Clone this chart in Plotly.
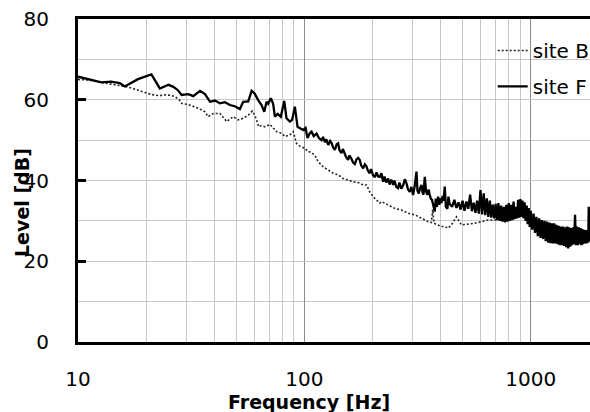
import plotly.graph_objects as go

# ---- data (frequency in Hz, level in dB) ----
freq_B = [10, 11.2, 12.0, 13.0, 14.0, 15.0, 16.1, 17.2, 18.4, 19.7, 21.1, 22.9, 24.2, 25.5,
          26.8, 28.0, 28.7, 30.7, 32.3, 34.0, 36.4, 37.6, 39.6, 42.4, 45.4, 48.5, 51.0,
          53.7, 56.5, 58.9, 60.4, 62.9, 64.5, 67.0, 70.5, 72.8, 75.4, 79.3, 82.1, 86.3,
          89.3, 92.3, 95.5, 100.5, 104.0, 105.7, 111.2, 115.0, 121.1, 127.5, 134.1, 141.0,
          148.4, 156.1, 164.2, 172.8, 181.8, 188.1, 194.5, 201.2, 208.2, 215.4, 219.3,
          234.5, 250.8, 268.6, 287.2, 307.6, 329.2, 352.2, 364, 369, 374, 403.5, 417, 431,
          446, 470, 494, 529, 566, 606, 649, 694, 750, 800, 850, 900, 950, 1000, 1100,
          1200, 1300, 1400, 1500, 1600, 1700, 1830]
level_B = [65.0, 64.9, 64.5, 64.2, 63.8, 63.6, 63.3, 62.9, 62.4, 61.8, 61.3, 61.0, 61.2, 61.1,
           60.8, 60.0, 59.1, 58.8, 58.4, 57.9, 57.0, 55.8, 56.6, 56.6, 54.6, 55.8, 55.0,
           55.4, 56.2, 57.2, 56.2, 53.3, 53.6, 53.3, 53.9, 52.9, 52.1, 51.7, 50.9, 51.3,
           52.1, 49.2, 48.5, 48.0, 47.1, 47.1, 46.3, 44.7, 43.4, 42.6, 41.8, 41.4,
           40.5, 40.1, 39.7, 39.5, 38.9, 38.9, 37.2, 36.0, 35.2, 34.4, 34.8,
           33.9, 33.1, 32.7, 31.9, 31.5, 30.6, 29.8, 29.6, 32.8, 29.4, 28.6, 28.6, 28.2,
           29.0, 31.0, 29.0, 29.2, 29.4, 29.8, 30.2, 30.2, 30.5, 30.8, 31.0, 31.5, 31.8, 30.0, 28.0,
           27.2, 26.8, 26.5, 26.2, 26.0, 25.8, 26.0]

freq_F = [10, 11.45, 12.7, 14.0, 15.3, 16.1, 18.4, 21.1, 23.0, 25.1, 26.4, 27.7, 28.7, 30.7,
          32.3, 34.6, 36.4, 38.3, 40.3, 42.4, 44.6, 46.9, 49.3, 51.9, 53.7, 56.5, 58.5,
          60.4, 62.5, 64.7, 66.5, 68.1, 69.2, 71.1, 72.8, 74.1, 76.2, 78.7, 81.5, 83.4,
          86.3, 88.3, 90.8, 93.3, 95.5, 98.8, 101.2, 103.3, 105.7,
          107.6, 110, 113.2, 116, 119.1, 121, 123.2, 125, 127.5, 130, 131.9, 134, 136.4,
          139, 141.0, 143, 145.9, 148, 150.9, 153, 156.1, 158, 161.5, 164, 167.1, 170,
          173, 175.8, 178, 181.8, 185, 188.1, 191, 194.5, 197, 201.2, 205, 208.2, 212, 215.4,
          219, 222.9, 226, 230, 234.5, 238, 242, 246.8, 250, 255, 259.6, 263, 268, 273.2,
          278, 282.6, 287, 292.4, 297, 302.3, 307, 312.9, 316, 320.4, 325, 329.2, 333, 336,
          340.5, 345, 349.8, 354, 358.1, 362, 366.6, 371, 376.7, 381, 385, 389.9, 395, 399,
          403.5, 408, 412, 417.2, 422, 428.7, 433, 438.6,
          450, 460, 470, 480, 490, 500, 510, 520, 530, 540, 550, 560, 570, 580, 590, 600,
          610, 620, 630, 640, 650, 660, 670, 680, 690, 700, 710, 720, 730, 740, 750, 760,
          770, 780, 790, 800, 810, 820, 830, 840, 850, 860, 870, 880, 890, 900, 910, 920,
          930, 940, 950, 960, 970, 980, 990, 1000,
          1015, 1030, 1045, 1060, 1075, 1090, 1105, 1120, 1135, 1150, 1165, 1180, 1195,
          1210, 1225, 1240, 1255, 1270, 1285, 1300, 1315, 1330, 1345, 1360, 1375, 1390,
          1405, 1420, 1435, 1450, 1465, 1480, 1495, 1510, 1525, 1540, 1555, 1570, 1585,
          1600, 1615, 1630, 1645, 1660, 1675, 1690, 1705, 1720, 1735, 1750, 1765, 1780,
          1795, 1805, 1815, 1830]
level_F = [65.7, 64.9, 64.3, 64.5, 64.1, 63.3, 65.1, 66.3, 62.8, 63.7, 63.2, 62.3, 61.2, 61.4,
           60.9, 62.2, 61.4, 59.5, 59.8, 59.1, 59.4, 58.7, 58.4, 57.7, 59.5, 59.6, 62.2,
           61.5, 59.9, 58.7, 57.0, 59.5, 59.0, 60.4, 59.0, 55.8, 56.5, 55.8, 59.7, 55.4,
           54.6, 55.0, 58.3, 53.3, 53.0, 52.5, 53.0, 50.5, 51.7,
           52.1, 51.0, 51.6, 50.5, 50.0, 50.8, 49.5, 50.2, 48.8, 49.8, 49.3, 48.2, 47.6,
           49.0, 49.2, 47.5, 46.8, 47.8, 46.5, 45.8, 45.1, 46.2, 45.4, 44.5, 44.1, 45.2,
           45.6, 45.1, 43.8, 43.0, 44.0, 43.5, 42.4, 41.8, 42.8, 41.3, 40.8, 42.0, 41.0, 40.9,
           41.8, 39.7, 41.0, 39.5, 40.5, 39.0, 40.2, 38.9, 40.0, 38.4, 38.1, 39.5, 38.0, 38.8,
           40.3, 39.3, 37.8, 37.2, 38.4, 36.4, 38.5, 42.2, 37.5, 36.8, 38.2, 38.9, 37.0, 36.5,
           40.9, 37.2, 36.5, 37.8, 36.4, 35.5, 35.2, 34.0, 32.3, 35.5, 33.5, 36.0, 34.0, 35.6,
           34.4, 36.2, 35.0, 38.5, 33.5, 33.0, 36.0, 34.2,
           33.5, 35.2, 33.2, 34.6, 32.8, 35.0, 32.5, 34.8, 33.0, 36.5, 32.4, 34.5, 32.0, 35.0, 31.8, 37.6,
           31.6, 36.8, 31.4, 35.6, 31.0, 35.0, 30.8, 34.0, 30.6, 34.2, 30.2, 34.4, 30.0, 33.8, 29.8, 33.5,
           29.6, 34.0, 29.8, 34.4, 30.0, 34.0, 30.2, 34.8, 30.4, 33.5, 30.6, 35.2, 30.8, 35.4, 31.0, 35.0,
           30.6, 34.6, 30.0, 33.8, 29.2, 33.2, 28.5, 32.5,
           27.8, 31.8, 27.0, 31.0, 26.2, 30.6, 25.8, 30.2, 25.5, 30.0, 25.0, 29.8, 24.6,
           29.6, 24.5, 29.4, 24.4, 29.4, 24.4, 29.0, 24.2, 28.8, 24.0, 28.6, 24.0, 28.6,
           23.8, 28.4, 23.5, 28.6, 23.2, 28.4, 23.6, 28.2, 24.0, 28.4, 24.2, 31.5, 24.0,
           28.6, 24.0, 28.4, 24.2, 28.2, 24.0, 28.0, 24.2, 27.8, 24.4, 27.7, 24.4, 27.6,
           24.6, 33.5, 25.0, 27.5]

x_tick_vals = [10, 100, 1000]
x_tick_text = ["10", "100", "1000"]
series_names = ["site B", "site F"]

FONT = "DejaVu Sans"
FS = 20
minor_x = [m * d for d in (10, 100, 1000) for m in range(2, 10)]

fig = go.Figure()
fig.add_trace(go.Scatter(x=freq_B, y=level_B, mode="lines", name=series_names[0],
                         legendgroup="b",
                         line=dict(color="#222222", width=1.6, dash="2px,2px")))
fig.add_trace(go.Scatter(x=freq_F, y=level_F, mode="lines", name=series_names[1],
                         legendgroup="f",
                         line=dict(color="#000000", width=2.3)))

fig.update_layout(
    width=590, height=412,
    margin=dict(l=78, r=0, t=19, b=70, autoexpand=False),
    paper_bgcolor="white", plot_bgcolor="white",
    font=dict(family=FONT, size=FS, color="black"),
    showlegend=True,
    legend=dict(x=0.81, xanchor="left", y=0.963, yanchor="top",
                bgcolor="rgba(0,0,0,0)", font=dict(family=FONT, size=FS),
                traceorder="grouped", tracegroupgap=7),
    xaxis=dict(type="log", range=[1, 3.262],
               tickmode="array", tickvals=x_tick_vals, ticktext=x_tick_text,
               showgrid=True, gridcolor="#8c8c8c", gridwidth=1,
               showline=True, linecolor="black", linewidth=3, mirror=True,
               ticks="", ticklabelstandoff=17, zeroline=False,
               tickfont=dict(family=FONT, size=FS),
               minor=dict(tickmode="array", tickvals=minor_x, showgrid=True,
                          gridcolor="#c8c8c8", gridwidth=1, ticks="")),
    yaxis=dict(range=[0, 80], dtick=20, tick0=0,
               showgrid=True, gridcolor="#c8c8c8", gridwidth=1,
               showline=True, linecolor="black", linewidth=3, mirror=False,
               ticks="inside", ticklen=8, tickwidth=3, tickcolor="black",
               ticklabelstandoff=22, zeroline=False,
               tickfont=dict(family=FONT, size=FS),
               minor=dict(dtick=10, showgrid=True, gridcolor="#c8c8c8", gridwidth=1, ticks="")),
    annotations=[
        dict(text="<b>Frequency [Hz]</b>", xref="paper", yref="paper",
             x=(309 - 78) / 512, y=-(402 - 342) / 323, xanchor="center", yanchor="middle",
             showarrow=False, font=dict(family=FONT, size=19, color="black")),
        dict(text="<b>Level [dB]</b>", xref="paper", yref="paper",
             x=-(78 - 22) / 512, y=(342 - 203) / 323, xanchor="center", yanchor="middle",
             textangle=-90, showarrow=False, font=dict(family=FONT, size=19, color="black")),
    ],
)

fig.write_html("out.html", config={"displayModeBar": False},
               post_script="document.body.style.margin='0';")
